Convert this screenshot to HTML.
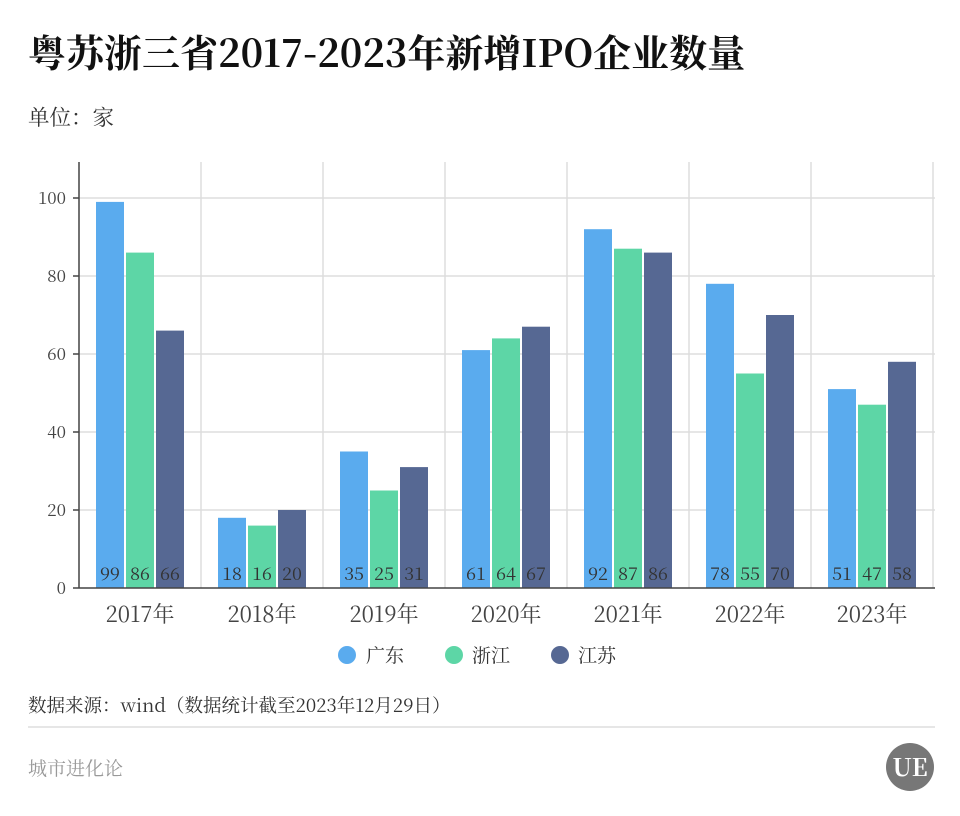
<!DOCTYPE html>
<html><head><meta charset="utf-8">
<style>
html,body{margin:0;padding:0;background:#fff;}
svg{display:block;font-family:"Noto Serif CJK SC","Liberation Serif",serif;}
</style></head>
<body>
<svg width="960" height="816" viewBox="0 0 960 816" xmlns="http://www.w3.org/2000/svg">
<rect width="960" height="816" fill="#fff"/>
<text x="28" y="67" font-size="38" font-weight="bold" fill="#111">粤苏浙三省2017-2023年新增IPO企业数量</text>
<text x="28" y="125" font-size="21.5" fill="#333">单位：家</text>
<g stroke="#ddd" stroke-width="1.5">
<line x1="79" y1="510" x2="935" y2="510"/>
<line x1="79" y1="432" x2="935" y2="432"/>
<line x1="79" y1="354" x2="935" y2="354"/>
<line x1="79" y1="276" x2="935" y2="276"/>
<line x1="79" y1="198" x2="935" y2="198"/>
<line x1="201" y1="162" x2="201" y2="588"/>
<line x1="323" y1="162" x2="323" y2="588"/>
<line x1="445" y1="162" x2="445" y2="588"/>
<line x1="567" y1="162" x2="567" y2="588"/>
<line x1="689" y1="162" x2="689" y2="588"/>
<line x1="811" y1="162" x2="811" y2="588"/>
<line x1="933" y1="162" x2="933" y2="588"/>
</g>
<g>
<rect x="96" y="201.9" width="28" height="386.1" fill="#5aabee"/>
<rect x="126" y="252.6" width="28" height="335.4" fill="#5dd6a6"/>
<rect x="156" y="330.6" width="28" height="257.4" fill="#566893"/>
<rect x="218" y="517.8" width="28" height="70.2" fill="#5aabee"/>
<rect x="248" y="525.6" width="28" height="62.4" fill="#5dd6a6"/>
<rect x="278" y="510" width="28" height="78" fill="#566893"/>
<rect x="340" y="451.5" width="28" height="136.5" fill="#5aabee"/>
<rect x="370" y="490.5" width="28" height="97.5" fill="#5dd6a6"/>
<rect x="400" y="467.1" width="28" height="120.9" fill="#566893"/>
<rect x="462" y="350.1" width="28" height="237.9" fill="#5aabee"/>
<rect x="492" y="338.4" width="28" height="249.6" fill="#5dd6a6"/>
<rect x="522" y="326.7" width="28" height="261.3" fill="#566893"/>
<rect x="584" y="229.2" width="28" height="358.8" fill="#5aabee"/>
<rect x="614" y="248.7" width="28" height="339.3" fill="#5dd6a6"/>
<rect x="644" y="252.6" width="28" height="335.4" fill="#566893"/>
<rect x="706" y="283.8" width="28" height="304.2" fill="#5aabee"/>
<rect x="736" y="373.5" width="28" height="214.5" fill="#5dd6a6"/>
<rect x="766" y="315" width="28" height="273" fill="#566893"/>
<rect x="828" y="389.1" width="28" height="198.9" fill="#5aabee"/>
<rect x="858" y="404.7" width="28" height="183.3" fill="#5dd6a6"/>
<rect x="888" y="361.8" width="28" height="226.2" fill="#566893"/>
</g>
<g font-size="18" fill="#333" text-anchor="middle">
<text x="110" y="580">99</text><text x="140" y="580">86</text><text x="170" y="580">66</text>
<text x="232" y="580">18</text><text x="262" y="580">16</text><text x="292" y="580">20</text>
<text x="354" y="580">35</text><text x="384" y="580">25</text><text x="414" y="580">31</text>
<text x="476" y="580">61</text><text x="506" y="580">64</text><text x="536" y="580">67</text>
<text x="598" y="580">92</text><text x="628" y="580">87</text><text x="658" y="580">86</text>
<text x="720" y="580">78</text><text x="750" y="580">55</text><text x="780" y="580">70</text>
<text x="842" y="580">51</text><text x="872" y="580">47</text><text x="902" y="580">58</text>
</g>
<line x1="79" y1="162" x2="79" y2="588" stroke="#444" stroke-width="1.5"/>
<line x1="79" y1="588" x2="935" y2="588" stroke="#444" stroke-width="1.5"/>
<g stroke="#444" stroke-width="1.5">
<line x1="73" y1="588" x2="79" y2="588"/><line x1="73" y1="510" x2="79" y2="510"/>
<line x1="73" y1="432" x2="79" y2="432"/><line x1="73" y1="354" x2="79" y2="354"/>
<line x1="73" y1="276" x2="79" y2="276"/><line x1="73" y1="198" x2="79" y2="198"/>
</g>
<g font-size="17" fill="#444" text-anchor="end">
<text x="66" y="594">0</text><text x="66" y="516">20</text><text x="66" y="438">40</text>
<text x="66" y="360">60</text><text x="66" y="282">80</text><text x="66" y="204">100</text>
</g>
<g font-size="22" fill="#444" text-anchor="middle">
<text x="140" y="622">2017年</text><text x="262" y="622">2018年</text><text x="384" y="622">2019年</text>
<text x="506" y="622">2020年</text><text x="628" y="622">2021年</text><text x="750" y="622">2022年</text>
<text x="872" y="622">2023年</text>
</g>
<circle cx="347" cy="655" r="9" fill="#5aabee"/><text x="366" y="662" font-size="19" fill="#333">广东</text>
<circle cx="454" cy="655" r="9" fill="#5dd6a6"/><text x="472" y="662" font-size="19" fill="#333">浙江</text>
<circle cx="560" cy="655" r="9" fill="#566893"/><text x="578" y="662" font-size="19" fill="#333">江苏</text>
<text x="28" y="712" font-size="18.5" fill="#333">数据来源：wind（数据统计截至2023年12月29日）</text>
<line x1="28" y1="727" x2="935" y2="727" stroke="#ddd" stroke-width="1.5"/>
<text x="28" y="775" font-size="19" fill="#999">城市进化论</text>
<circle cx="910" cy="767" r="24" fill="#777"/>
<text x="910" y="776" font-size="24" font-weight="bold" fill="#fff" text-anchor="middle">UE</text>
</svg>
</body></html>
